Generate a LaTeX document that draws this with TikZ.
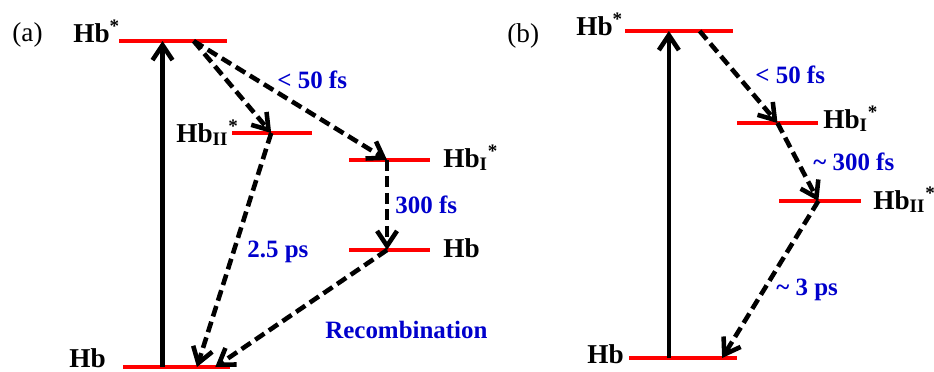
\documentclass[tikz,border=0pt]{standalone}
\usepackage{fontspec}
\setmainfont{Liberation Serif}
\usetikzlibrary{positioning, arrows.meta, calc}
\tikzset{
  level/.style={rectangle, fill=red, inner sep=0pt, minimum height=0.085cm},
  state/.style={anchor=base west, inner sep=0pt, font=\fontsize{15.5}{18}\selectfont\bfseries},
  rate/.style={anchor=base west, inner sep=0pt, text=blue!80!black, font=\fontsize{14.2}{17}\selectfont\bfseries},
  panel/.style={anchor=base west, inner sep=0pt, font=\fontsize{15.5}{18}\selectfont},
  pump/.style={line width=2.6pt, -{Straight Barb[length=0.3cm, width=0.4cm]}},
  decay/.style={pump, dash pattern=on 0.22cm off 0.11cm}
}

\begin{document}
\begin{tikzpicture}[x=0.02cm, y=-0.02cm]
    \useasboundingbox (0,0) rectangle (934,372);

    % --- Panel (a): niveles ---
    \node (aEx) [level, minimum width=2.16cm] at (173,41) {};
    \node (aII) [level, minimum width=1.6cm] at (272,133) {};
    \node (aI) [level, minimum width=1.62cm] at (389.5,160) {};
    \node (aHb) [level, minimum width=1.62cm] at (389.5,250) {};
    \node (aGs) [level, minimum width=2.14cm] at (176.5,367) {};

    % --- Panel (a): etiquetas ---
    \node (aPanel) [panel] at (12,41) {(a)};
    \node (aExLab) [state] at (73,42) {Hb\textsuperscript{*}};
    \node (aIILab) [state] at (176,142) {Hb\textsubscript{II}\textsuperscript{*}};
    \node (aILab) [state] at (443,167) {Hb\textsubscript{I}\textsuperscript{*}};
    \node (aHbLab) [state] at (443,257) {Hb};
    \node (aGsLab) [state] at (69,367) {Hb};

    \node (aFast) [rate] at (277,89) {< 50 fs};
    \node (aMid) [rate] at (395,213) {300 fs};
    \node (aSlow) [rate] at (247,257) {2.5 ps};
    \node (aRec) [rate] at (325,338) {Recombination};

    % --- Panel (a): flechas ---
    \coordinate (aPump) at ($(aGs.west)!0.37!(aGs.east)$);
    \coordinate (aStart) at ($(aEx.west)!0.69!(aEx.east)$);
    \coordinate (aIIpt) at ($(aII.west)!0.49!(aII.east)$);
    \coordinate (aIpt) at ($(aI.west)!0.47!(aI.east)$);
    \coordinate (aHbpt) at ($(aHb.west)!0.47!(aHb.east)$);

    \draw [pump] (aPump) -- (aPump |- aEx.center);
    \draw [decay] (aStart) -- (aIIpt);
    \draw [decay] (aStart) -- (aIpt);
    \draw [decay] (aIpt) -- (aHbpt);
    \draw [decay] (aIIpt) -- ($(aGs.west)!0.69!(aGs.east)$);
    \draw [decay] (aHbpt) -- ($(aGs.west)!0.86!(aGs.east)$);

    % --- Panel (b): niveles ---
    \node (bEx) [level, minimum width=2.16cm] at (679,31) {};
    \node (bI) [level, minimum width=1.62cm] at (777.5,123) {};
    \node (bII) [level, minimum width=1.64cm] at (820,201) {};
    \node (bGs) [level, minimum width=2.16cm] at (683,358) {};

    % --- Panel (b): etiquetas ---
    \node (bPanel) [panel] at (507,42) {(b)};
    \node (bExLab) [state] at (576,35) {Hb\textsuperscript{*}};
    \node (bILab) [state] at (823,128) {Hb\textsubscript{I}\textsuperscript{*}};
    \node (bIILab) [state] at (873,209) {Hb\textsubscript{II}\textsuperscript{*}};
    \node (bGsLab) [state] at (587,363) {Hb};

    \node (bFast) [rate] at (755,83) {< 50 fs};
    \node (bMid) [rate] at (813,170) {\textasciitilde{} 300 fs};
    \node (bSlow) [rate] at (776,295) {\textasciitilde{} 3 ps};

    % --- Panel (b): flechas ---
    \coordinate (bPump) at ($(bGs.west)!0.37!(bGs.east)$);
    \coordinate (bIpt) at ($(bI.west)!0.5!(bI.east)$);
    \coordinate (bIIpt) at ($(bII.west)!0.48!(bII.east)$);

    \draw [pump] (bPump) -- (bPump |- bEx.center);
    \draw [decay] ($(bEx.west)!0.69!(bEx.east)$) -- (bIpt);
    \draw [decay] (bIpt) -- (bIIpt);
    \draw [decay] (bIIpt) -- ($(bGs.west)!0.86!(bGs.east)$);

\end{tikzpicture}
\end{document}
